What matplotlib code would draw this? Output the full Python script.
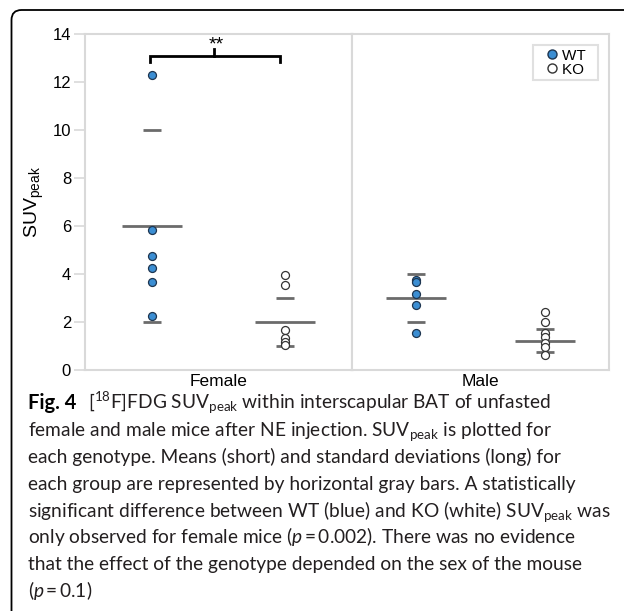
import matplotlib
matplotlib.use("Agg")
import matplotlib.pyplot as plt
from matplotlib.lines import Line2D
from matplotlib.patches import FancyBboxPatch
from matplotlib import font_manager

# values
sexes = ["Female", "Male"]
genotypes = ["WT", "KO"]
female_wt = [12.3, 5.85, 4.75, 4.25, 3.67, 2.27]
female_ko = [3.95, 3.55, 1.65, 1.32, 1.15, 1.03]
male_wt = [3.75, 3.65, 3.15, 2.72, 1.53]
male_ko = [2.42, 2.0, 1.55, 1.38, 1.12, 0.95, 0.62]
# long bar, then the two short bars
female_wt_bars = [6.0, 2.0, 10.0]
female_ko_bars = [2.0, 1.0, 3.0]
male_wt_bars = [3.0, 2.0, 4.0]
male_ko_bars = [1.22, 0.75, 1.72]

caption_lines = [
    r"[$^{18}$F]FDG SUV$_{\mathrm{peak}}$ within interscapular BAT of unfasted",
    r"female and male mice after NE injection. SUV$_{\mathrm{peak}}$ is plotted for",
    "each genotype. Means (short) and standard deviations (long) for",
    "each group are represented by horizontal gray bars. A statistically",
    r"significant difference between WT (blue) and KO (white) SUV$_{\mathrm{peak}}$ was",
    r"only observed for female mice ($p$$\,$=$\,$0.002). There was no evidence",
    "that the effect of the genotype depended on the sex of the mouse",
    r"($p$$\,$=$\,$0.1)",
]

def pick(names):
    for n in names:
        try:
            font_manager.findfont(n, fallback_to_default=False)
            return n
        except Exception:
            pass
    return "DejaVu Sans"

chart_font = pick(["Liberation Sans", "Arial"])
cap_font = pick(["Lato", "Roboto"])

plt.rcParams["font.family"] = chart_font
plt.rcParams["mathtext.fontset"] = "custom"
plt.rcParams["mathtext.rm"] = cap_font
plt.rcParams["mathtext.it"] = cap_font + ":italic"
plt.rcParams["mathtext.bf"] = cap_font + ":bold"
plt.rcParams["mathtext.sf"] = chart_font

W, H = 624, 611
fig = plt.figure(figsize=(W / 100, H / 100), dpi=100)

# rounded frame around the figure (open to the right and bottom, as cropped)
frame = FancyBboxPatch((0.115, -1.0), 8.0, 6.01 + 1.0,
                       boxstyle="round,pad=0,rounding_size=0.1",
                       transform=fig.dpi_scale_trans, fill=False,
                       edgecolor="black", linewidth=1.3)
fig.patches.append(frame)

left, right, top, bottom, mid = 85, 609, 34, 370, 352
ax1 = fig.add_axes([left / W, 1 - bottom / H, (mid - left) / W, (bottom - top) / H])
ax2 = fig.add_axes([mid / W, 1 - bottom / H, (right - mid) / W, (bottom - top) / H])

blue = "#3b8ed3"
edge = "#1d3550"
bar_c = "#6b6b6b"
groups = [(ax1, female_wt, female_ko, female_wt_bars, female_ko_bars, mid - left),
          (ax2, male_wt, male_ko, male_wt_bars, male_ko_bars, right - mid)]

for i, (ax, wt, ko, wtb, kob, wpx) in enumerate(groups):
    ax.set_xlim(-1, 1)
    ax.set_ylim(0, 14)
    long_hw = 30 / wpx * 2
    short_hw = 9 / wpx * 2
    for x, bars in [(-0.5, wtb), (0.5, kob)]:
        ax.hlines(bars[0], x - long_hw, x + long_hw, color=bar_c, lw=2, zorder=2)
        ax.hlines(bars[1:], x - short_hw, x + short_hw, color=bar_c, lw=2, zorder=2)
    ax.scatter([-0.5] * len(wt), wt, s=33, color=blue, edgecolors=edge, linewidths=0.9, zorder=3)
    ax.scatter([0.5] * len(ko), ko, s=33, color="white", edgecolors="#333333", linewidths=0.9, zorder=3)
    for s in ax.spines.values():
        s.set_color("#d9d9d9")
        s.set_linewidth(1.5)
    ax.set_xticks([0])
    ax.set_xticklabels([sexes[i]], fontsize=12.5)
    ax.tick_params(axis="x", length=0, pad=3)

ax1.set_yticks(range(0, 15, 2))
ax1.tick_params(axis="y", length=8, width=1.2, color="#d9d9d9", labelsize=12, pad=2)
ax1.set_ylabel(r"SUV$_{\mathsf{peak}}$", fontsize=14, labelpad=5)
ax2.set_yticks([])

# significance bracket
ax1.plot([-0.51, -0.51, 0.46, 0.46], [12.83, 13.08, 13.08, 12.83], color="black", lw=2, solid_joinstyle="miter")
ax1.plot([-0.03, -0.03], [13.08, 13.36], color="black", lw=2)
ax1.text(-0.02, 13.2, "**", ha="center", va="bottom", fontsize=14)

handles = [Line2D([], [], marker="o", ls="", markersize=6.5, markerfacecolor=blue, markeredgecolor=edge),
           Line2D([], [], marker="o", ls="", markersize=6.5, markerfacecolor="white", markeredgecolor="#333333")]
leg = ax2.legend(handles, [g + "  " for g in genotypes], loc="upper right", fontsize=11, frameon=True,
                 fancybox=False, edgecolor="#d9d9d9", handlelength=2.0, handletextpad=-0.3,
                 borderpad=0.2, labelspacing=0.0, borderaxespad=0.75)
leg.get_frame().set_linewidth(1.5)

# caption: fit the widest line to the width it has in the figure
x0 = 28
base0 = 409
step = 26.9
fs = 13
probe = fig.text(0, 0, caption_lines[4], fontsize=fs, family=cap_font)
fig.canvas.draw()
fs = fs * 583 / probe.get_window_extent().width
probe.remove()

t = fig.text(x0 / W, 1 - base0 / H, "Fig. 4", fontsize=fs * 1.05, fontweight="bold", family=cap_font, va="baseline")
fig.canvas.draw()
bb = t.get_window_extent()
fig.text((bb.x1 + 12) / W, 1 - base0 / H, caption_lines[0], fontsize=fs, family=cap_font, va="baseline", color="#231f20")
for k, line in enumerate(caption_lines[1:], start=1):
    fig.text(x0 / W, 1 - (base0 + k * step) / H, line, fontsize=fs, family=cap_font, va="baseline", color="#231f20")

fig.savefig("out.png", dpi=100)
